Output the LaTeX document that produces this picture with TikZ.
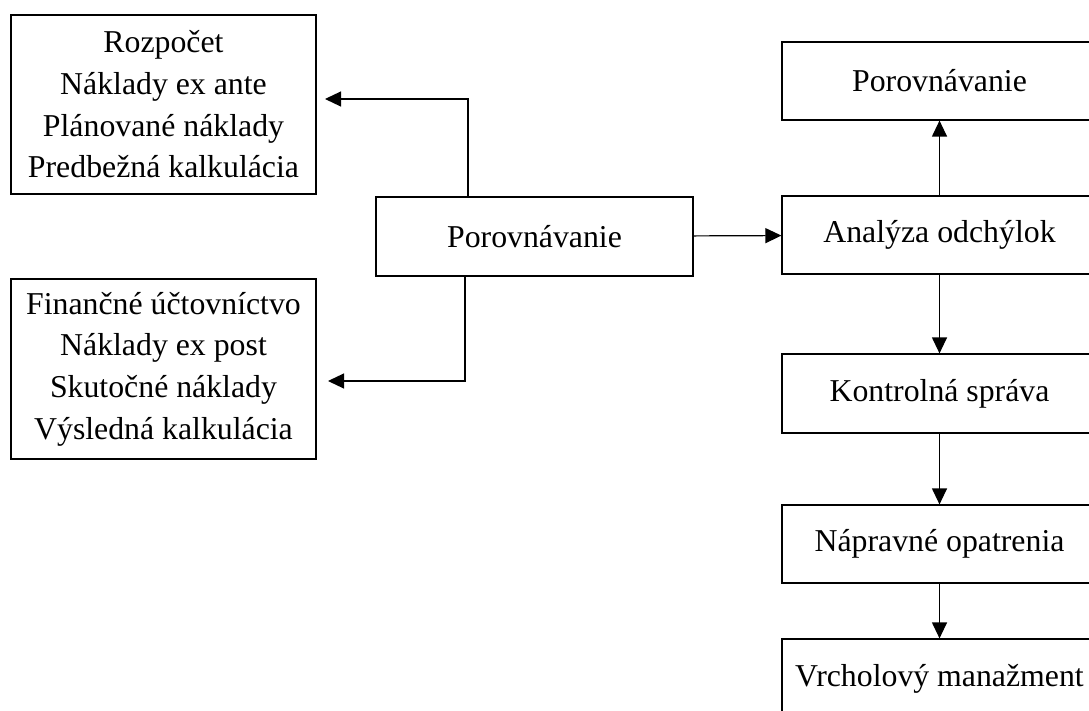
\documentclass[tikz,border=0pt]{standalone}
\usepackage{fontspec}
\setmainfont{Liberation Serif}
\usetikzlibrary{arrows.meta}

\begin{document}
\begin{tikzpicture}[x=1pt,y=-1pt,
	box/.style={draw, line width=1.2pt, inner sep=0pt, align=center,
		font=\fontsize{31.8}{41.7}\selectfont},
	arr/.style={line width=1.2pt, -{Triangle[length=16pt,width=15pt]}}]

\useasboundingbox (0,0) rectangle (1089,711);
\clip (0,0) rectangle (1089,711);

\node[box, minimum width=305pt, minimum height=179pt] (plan) at (163.5,104.5) {Rozpočet\\Náklady ex ante\\Plánované náklady\\Predbežná kalkulácia};
\node[box, minimum width=305pt, minimum height=180pt] (actual) at (163.5,369) {Finančné účtovníctvo\\Náklady ex post\\Skutočné náklady\\Výsledná kalkulácia};
\node[box, minimum width=317pt, minimum height=79pt] (cmp) at (534.5,236.5) {Porovnávanie};

\node[box, minimum width=315pt, minimum height=78pt] (cmpright) at (939.5,81) {Porovnávanie};
\node[box, minimum width=315pt, minimum height=78pt] (anal) at (939.5,235) {Analýza odchýlok};
\node[box, minimum width=315pt, minimum height=79pt] (ctrl) at (939.5,393.5) {Kontrolná správa};
\node[box, minimum width=315pt, minimum height=78pt] (corr) at (939.5,544) {Nápravné opatrenia};
\node[box, minimum width=315pt, minimum height=79pt] (top) at (939.5,678.5) {Vrcholový manažment};

\coordinate (planin) at (325,99);
\coordinate (actin) at (328,381);
\coordinate (upbend) at (468,99);
\coordinate (downbend) at (465,381);

\draw[arr] (cmp.north -| upbend) |- (planin);
\draw[arr] (cmp.south -| downbend) |- (actin);

\foreach \from/\to in {cmp/anal, anal/cmpright, anal/ctrl, ctrl/corr, corr/top}
	\draw[arr] (\from) -- (\to);

\end{tikzpicture}
\end{document}
